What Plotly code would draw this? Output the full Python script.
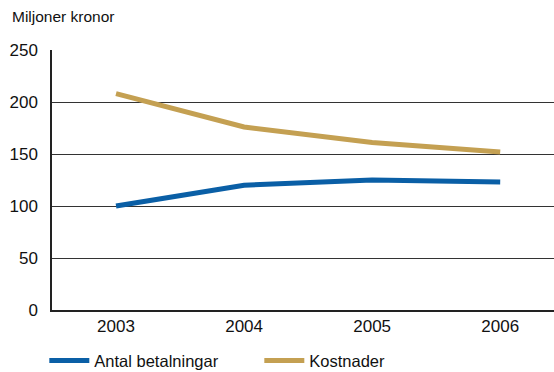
import plotly.graph_objects as go

years = ["2003", "2004", "2005", "2006"]
antal = [100, 120, 125, 123]
kostnader = [208, 176, 161, 152]
y_ticks = [0, 50, 100, 150, 200, 250]

fig = go.Figure()
fig.add_trace(go.Scatter(x=years, y=antal, mode="lines", name="Antal betalningar",
                         line=dict(color="#0A5FA6", width=5)))
fig.add_trace(go.Scatter(x=years, y=kostnader, mode="lines", name="Kostnader",
                         line=dict(color="#C4A052", width=5)))

fig.update_layout(
    width=554, height=372,
    margin=dict(l=52, r=0, t=50, b=62),
    paper_bgcolor="white", plot_bgcolor="white",
    font=dict(family="Liberation Sans, Arial, sans-serif", size=17, color="#111"),
    showlegend=True,
    legend=dict(orientation="h", x=0.08, xref="container", xanchor="left",
                y=0.03, yref="container", yanchor="middle",
                font=dict(size=16.5), entrywidth=160, entrywidthmode="pixels",
                itemwidth=40, bgcolor="rgba(0,0,0,0)"),
    annotations=[dict(text="Miljoner kronor", xref="paper", yref="paper",
                      x=-42/502, y=1 + 34/260, xanchor="left", yanchor="middle",
                      showarrow=False, font=dict(size=15.5))],
)
fig.update_xaxes(type="category", range=[-0.5, 3.42], showgrid=False,
                 showline=True, linecolor="#222", linewidth=1.5, ticks="",
                 tickfont=dict(size=17))
fig.update_yaxes(range=[0, 250], tickvals=y_ticks, showgrid=True, gridcolor="#333",
                 gridwidth=1, showline=True, linecolor="#222", linewidth=1.5,
                 zeroline=False, ticks="", ticklabelstandoff=9, tickfont=dict(size=17))

fig.write_html("out.html")
